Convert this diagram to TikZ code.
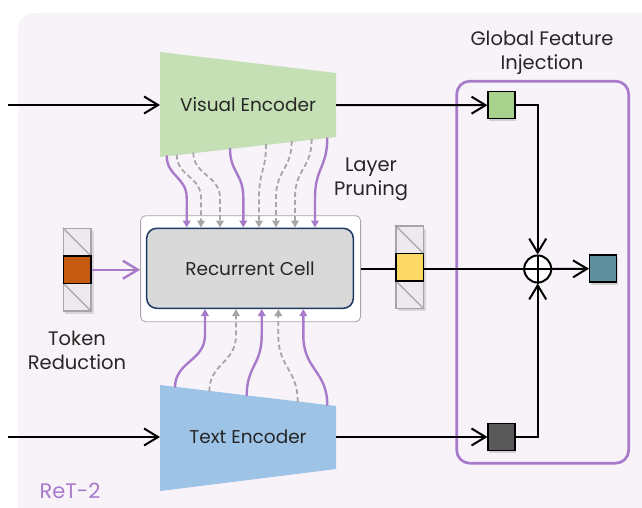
\documentclass[tikz,border=0pt]{standalone}
\usepackage{fontspec}
\setmainfont{Poppins}
\usetikzlibrary{arrows.meta,shadows}
\definecolor{bgc}{HTML}{F8F3F9}
\definecolor{vgreen}{HTML}{C5E0B4}
\definecolor{tblue}{HTML}{9DC3E6}
\definecolor{purp}{HTML}{A77BCA}
\definecolor{dgrey}{HTML}{A6A6A6}
\definecolor{gbox}{HTML}{A9D18E}
\definecolor{kbox}{HTML}{595959}
\definecolor{teal}{HTML}{5E8F9C}
\definecolor{orng}{HTML}{C55A11}
\definecolor{yell}{HTML}{FFD966}
\definecolor{cellfill}{HTML}{D9D9D9}
\definecolor{navy}{HTML}{1F3864}
\definecolor{colfill}{HTML}{EDE9EE}
\definecolor{txt}{HTML}{262626}
\begin{document}
\begin{tikzpicture}[x=1pt,y=-1pt,
  lbl/.style={text=txt,font=\fontsize{19.5}{24}\selectfont,align=center,inner sep=0pt},
  enc/.style={text=txt,font=\fontsize{18.5}{22}\selectfont,inner sep=0pt},
  blk/.style={draw=black,line width=2pt},
  barb/.style={-{Straight Barb[length=14pt,width=17pt]}},
  pa/.style={draw=purp,line width=2.4pt,-{Triangle[length=7pt,width=7.5pt]}},
  ga/.style={draw=dgrey,line width=1.8pt,dash pattern=on 5pt off 3pt,-{Triangle[length=7pt,width=7.5pt]}},
  sq/.style={draw=black,line width=1.5pt,minimum width=27pt,minimum height=27pt,inner sep=0pt,
    drop shadow={opacity=0.3,shadow xshift=1pt,shadow yshift=-2.5pt}},
  colcell/.style={draw=dgrey,fill=colfill,line width=1.5pt,minimum width=27.5pt,minimum height=27.5pt,inner sep=0pt},
  colsh/.style={fill=black,opacity=0.12},
]
\useasboundingbox (0,0) rectangle (642,508);
\begin{scope}
  \clip (0,0) rectangle (642,508);
  \fill[bgc,rounded corners=16pt] (18,13) rectangle (690,560);
\end{scope}

% encoders
\fill[vgreen] (160,52) -- (336,73) -- (336,137) -- (160,157) -- cycle;
\node[enc] (ve) at (248,105) {Visual Encoder};
\coordinate (veL) at (160,105);
\coordinate (veR) at (336,105);
\fill[tblue] (160,385) -- (336,406) -- (336,469) -- (160,491) -- cycle;
\node[enc] (te) at (248,437) {Text Encoder};
\coordinate (teL) at (160,437);
\coordinate (teR) at (336,437);

% recurrent cell
\node[draw=dgrey,fill=white,line width=0.8pt,rounded corners=5pt,minimum width=220pt,minimum height=106pt] (ob) at (250.6,268.7) {};
\node[draw=navy,fill=cellfill,line width=1.5pt,rounded corners=10pt,minimum width=206.6pt,minimum height=80pt,
  text=txt,font=\fontsize{18.5}{22}\selectfont] (rc) at (250,268.3) {Recurrent Cell};

% layer connections (top)
\foreach \xa/\ya/\xb/\st in {166.7/155.5/186.7/pa,176.7/154.5/201/ga,193.3/152.5/220/ga,230/148/243.3/pa,
  266/144/259/ga,291.7/141/276/ga,311.7/139/295/ga,327.3/137.5/315/pa}{
  \draw[\st] (\xa,\ya) .. controls (\xa,{(\ya+198)/2}) and (\xb,{(\ya+198)/2}) .. (\xb,198) -- (\xb,0 |- rc.north);
}
% layer connections (bottom)
\foreach \xa/\ya/\xb/\st in {175/387.5/205/pa,209.3/391.5/236/ga,246.7/396/261.7/pa,297.7/402/278.3/ga,327.3/405.5/303.3/pa}{
  \draw[\st] (\xa,\ya) .. controls (\xa,{(\ya+335)/2}) and (\xb,{(\ya+335)/2}) .. (\xb,335) -- (\xb,0 |- rc.south);
}

% inputs
\coordinate (inV) at (8,105);
\coordinate (inT) at (8,437);
\draw[blk,barb] (inV) -- (veL);
\draw[blk,barb] (inT) -- (teL);

% global feature injection
\node[draw=purp,line width=2.7pt,rounded corners=13pt,minimum width=172pt,minimum height=382pt] (gfi) at (542.7,272.2) {};
\node[lbl] (gfit) at (542,52.5) {Global Feature\\Injection};
\node[sq,fill=gbox] (gb) at (501.7,105.2) {};
\node[sq,fill=kbox] (kb) at (501.7,437) {};
\node[sq,fill=teal] (tb) at (603.2,268.7) {};
\coordinate (obR) at (360.6,269);
\node[circle,draw=black,fill=white,line width=2pt,minimum size=27pt,inner sep=0pt] (ox) at (537.7,269) {};
\draw[blk] (obR) -- (ox.west);
\draw[blk] (ox.north) -- (ox.south);
\draw[blk] (ox.west) -- (ox.east);
\draw[blk,barb] (veR) -- (gb.west);
\draw[blk,barb] (teR) -- (kb.west);
\draw[blk,barb] (gb.east) -| (ox.north);
\draw[blk,barb] (kb.east) -| (ox.south);
\draw[blk,barb] (ox.east) -- (tb.west);

% token reduction column
\fill[colsh] (65,231) rectangle (93.5,313.5);
\node[colcell] (lc1) at (77.25,242.25) {};
\node[colcell] (lc3) at (77.25,297.25) {};
\draw[dgrey,line width=1.2pt] (lc1.north west) -- (lc1.south east);
\draw[dgrey,line width=1.2pt] (lc3.north west) -- (lc3.south east);
\node[draw=black,fill=orng,line width=1.5pt,minimum width=27.5pt,minimum height=27.5pt,inner sep=0pt] (oc) at (77.25,269.75) {};
\draw[draw=purp,line width=2.4pt,-{Straight Barb[length=15pt,width=18pt]}] (oc.east) -- (ob.west |- oc.east);
\node[lbl] (tr) at (77,350) {Token\\Reduction};

% output column
\fill[colsh] (397.5,228.5) rectangle (425.5,311);
\node[colcell] (rc1) at (409.5,239.5) {};
\node[colcell] (rc3) at (409.5,294.5) {};
\draw[dgrey,line width=1.2pt] (rc1.north west) -- (rc1.south east);
\draw[dgrey,line width=1.2pt] (rc3.north west) -- (rc3.south east);
\node[draw=black,fill=yell,line width=1.5pt,minimum width=27.5pt,minimum height=27.5pt,inner sep=0pt] (yc) at (409.5,267) {};

% labels
\node[lbl] (lp) at (371,179) {Layer\\Pruning};
\node[text=purp,font=\fontsize{21}{24}\selectfont,inner sep=0pt] (ret) at (70,491) {ReT-2};
\end{tikzpicture}
\end{document}
